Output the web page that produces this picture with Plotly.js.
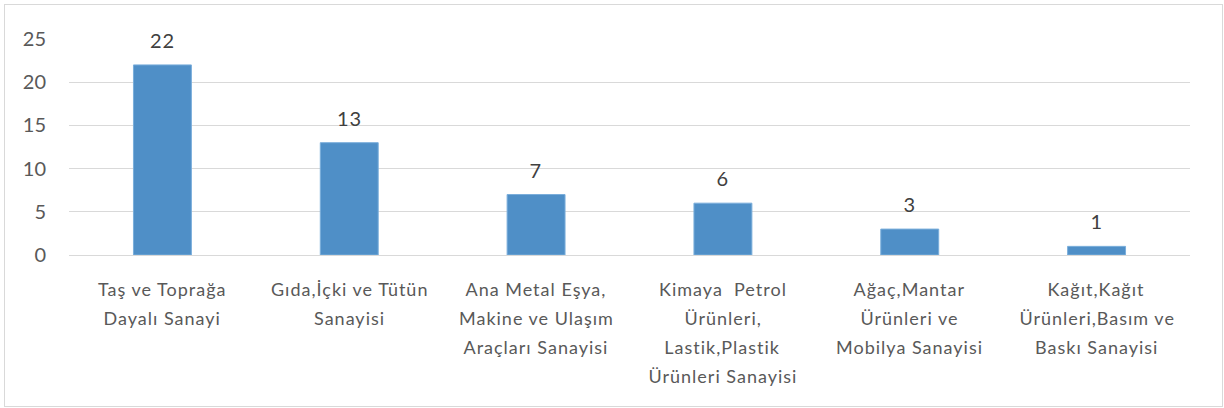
<!DOCTYPE html>
<html>
<head>
<meta charset="utf-8">
<script src="https://cdn.plot.ly/plotly-3.0.1.min.js"></script>
<style>
html,body{margin:0;padding:0;background:#fff;}
#wrap{position:absolute;left:0;top:0;width:1224px;height:408px;}
#frame{position:absolute;left:4px;top:4px;width:1217px;height:401px;border:1px solid #d9d9d9;pointer-events:none;}
#chart{position:absolute;left:0;top:0;width:1224px;height:408px;}
#chart .annotation-text{letter-spacing:1px;}
</style>
</head>
<body>
<div id="wrap"><div id="chart"></div><div id="frame"></div></div>
<script>
const categories = [
  "Taş ve Toprağa<br>Dayalı Sanayi",
  "Gıda,İçki ve Tütün<br>Sanayisi",
  "Ana Metal Eşya,<br>Makine ve Ulaşım<br>Araçları Sanayisi",
  "Kimaya  Petrol<br>Ürünleri,<br>Lastik,Plastik<br>Ürünleri Sanayisi",
  "Ağaç,Mantar<br>Ürünleri ve<br>Mobilya Sanayisi",
  "Kağıt,Kağıt<br>Ürünleri,Basım ve<br>Baskı Sanayisi"
];
const values = [22, 13, 7, 6, 3, 1];
const yTicks = [0, 5, 10, 15, 20, 25];

const FONT = "Lato, 'Noto Sans', sans-serif";
const ids = categories.map((c, i) => "c" + i);

const annotations = [];
// data labels
values.forEach((v, i) => {
  annotations.push({
    x: ids[i], y: v, xref: "x", yref: "y",
    text: String(v), showarrow: false,
    yanchor: "middle", yshift: 25,
    font: {family: FONT, size: 20, color: "#404040"}
  });
});
// category labels, one line each (for line spacing)
categories.forEach((c, i) => {
  c.split("<br>").forEach((line, j) => {
    annotations.push({
      x: ids[i], y: 0, xref: "x", yref: "y",
      text: line, showarrow: false,
      yanchor: "middle", yshift: -34 - j * 29,
      font: {family: FONT, size: 18, color: "#595959"}
    });
  });
});

const trace = {
  type: "bar",
  x: ids,
  y: values,
  marker: {color: "#4f8fc7", line: {color: "#7aaedb", width: 1}},
  hoverinfo: "skip"
};

const layout = {
  width: 1224, height: 408,
  margin: {l: 69, r: 34, t: 39, b: 153},
  paper_bgcolor: "#ffffff",
  plot_bgcolor: "#ffffff",
  showlegend: false,
  bargap: 0.69,
  xaxis: {
    type: "category",
    showticklabels: false,
    showgrid: false, zeroline: false, showline: false, ticks: ""
  },
  yaxis: {
    range: [0, 25],
    tickvals: yTicks,
    ticktext: yTicks.map(String),
    showgrid: true, gridcolor: "#d9d9d9", gridwidth: 1,
    zeroline: true, zerolinecolor: "#d9d9d9", zerolinewidth: 1,
    showline: false, ticks: "",
    ticklabelstandoff: 22,
    tickfont: {family: FONT, size: 20, color: "#595959"}
  },
  annotations: annotations
};

Plotly.newPlot("chart", [trace], layout, {displayModeBar: false, staticPlot: true});
</script>
</body>
</html>
